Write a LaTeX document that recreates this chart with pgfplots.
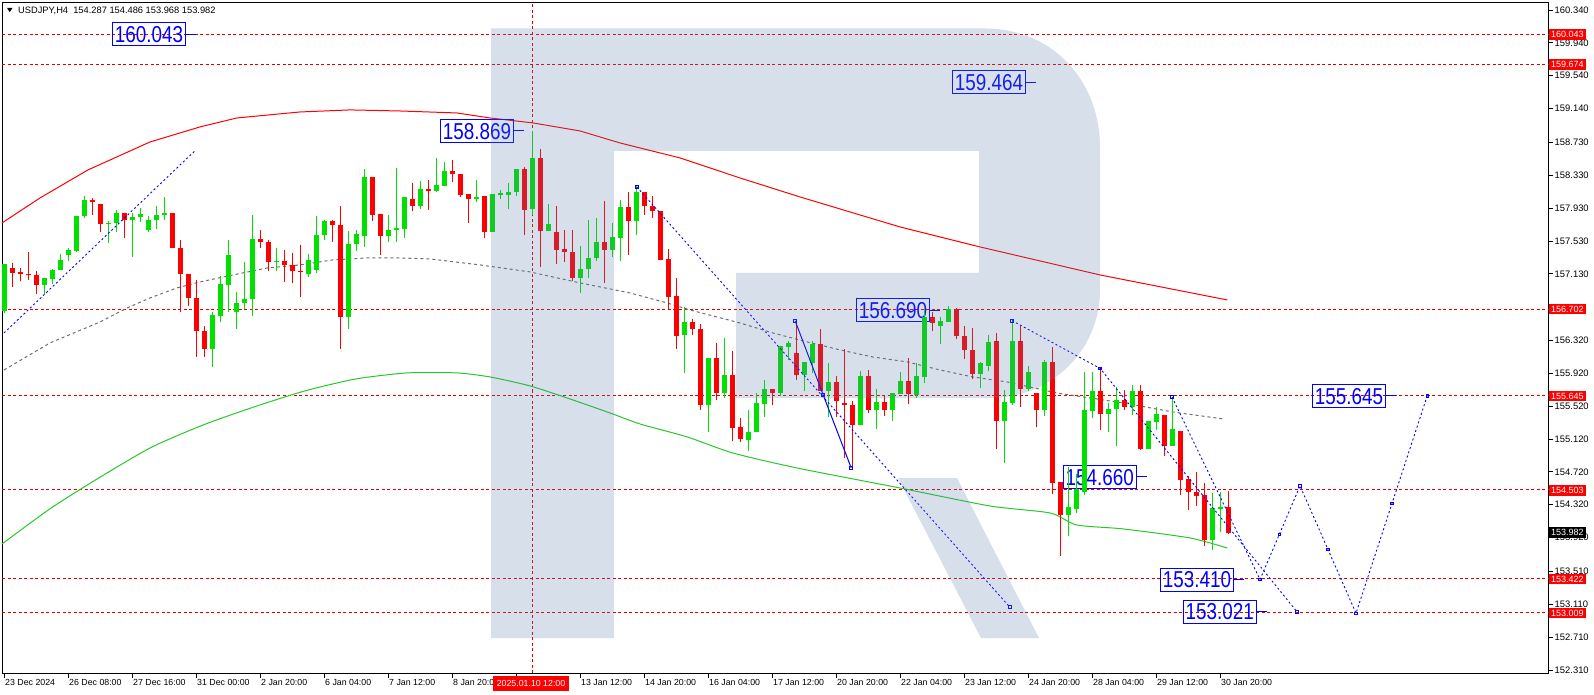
\documentclass[border=0pt]{standalone}
\usepackage{pgfplots}
\usepackage{pgfplotstable}
\pgfplotsset{compat=1.18}
\usepackage{fontspec}
\setmainfont{Liberation Sans}
\newfontfamily\labelfam{Liberation Sans}[FakeStretch=0.82]
\definecolor{cgreen}{RGB}{0,225,0}
\definecolor{cred}{RGB}{255,0,0}
\definecolor{magreen}{RGB}{40,200,40}
\definecolor{magray}{RGB}{110,110,110}
\definecolor{wm}{RGB}{86,123,173}
\definecolor{hlred}{RGB}{225,0,0}

\pgfplotstableread{
x o h l c
0 156.68 157.25 156.65 157.25
5 156.99 157.08 156.89 157.08
6 157.07 157.19 157.01 157.18
7 157.18 157.37 157.18 157.30
8 157.36 157.45 157.29 157.42
9 157.41 157.83 157.39 157.83
10 157.83 158.08 157.81 158.03
13 157.73 157.77 157.50 157.75
14 157.75 157.91 157.64 157.87
16 157.78 157.87 157.34 157.82
17 157.82 157.93 157.76 157.86
18 157.66 157.83 157.64 157.79
19 157.78 157.96 157.68 157.85
20 157.84 158.07 157.79 157.87
26 156.22 156.67 156.00 156.63
27 156.62 157.10 156.54 157.01
28 156.99 157.54 156.67 157.36
29 156.67 156.91 156.46 156.78
30 156.78 157.27 156.70 156.82
31 156.82 157.85 156.62 157.55
34 157.27 157.45 157.17 157.29
38 157.13 157.37 157.09 157.30
39 157.18 157.83 157.14 157.60
40 157.60 157.79 157.54 157.77
43 156.60 157.65 156.46 157.49
44 157.49 157.66 157.41 157.62
45 157.59 158.41 157.46 158.31
48 157.59 157.85 157.52 157.66
49 157.66 158.42 157.52 157.69
50 157.68 158.07 157.57 158.07
52 157.96 158.26 157.92 158.16
54 158.14 158.54 158.13 158.21
55 158.20 158.49 158.20 158.38
59 158.04 158.27 158.00 158.07
61 157.64 158.10 157.64 158.10
62 158.09 158.15 158.04 158.11
63 158.09 158.23 157.92 158.12
64 158.12 158.41 158.08 158.41
66 157.92 158.869 157.85 158.54
68 157.65 157.98 157.65 157.74
72 157.08 157.47 156.90 157.19
73 157.19 157.79 157.08 157.32
74 157.32 157.81 157.28 157.52
76 157.42 157.75 157.34 157.58
77 157.57 158.03 157.28 157.94
79 157.77 158.21 157.60 158.13
85 156.38 156.73 155.92 156.54
88 155.53 156.10 155.20 156.10
90 155.68 156.35 155.62 155.90
93 155.11 155.47 154.97 155.21
94 155.20 155.68 155.20 155.56
95 155.55 155.84 155.39 155.73
97 155.68 156.25 155.64 156.25
98 156.24 156.31 156.08 156.29
100 155.90 156.06 155.70 156.06
101 156.05 156.31 155.92 156.28
103 155.71 156.05 155.39 155.81
107 155.29 155.95 155.29 155.89
109 155.47 155.73 155.24 155.57
111 155.47 155.68 155.34 155.68
112 155.67 155.94 155.67 155.83
114 155.66 156.04 155.62 155.89
115 155.88 156.70 155.80 156.60
117 156.50 156.60 156.27 156.55
118 156.54 156.74 156.54 156.70
122 155.91 156.06 155.74 156.05
123 156.01 156.39 155.95 156.30
125 155.34 155.72 154.83 155.57
126 155.56 156.57 155.53 156.31
128 155.73 156.01 155.71 155.93
130 155.47 156.08 155.40 156.06
133 154.19 154.78 153.94 154.29
134 154.27 154.70 154.22 154.51
135 154.48 155.94 154.44 155.47
136 155.46 155.94 155.37 155.70
138 155.43 155.56 155.20 155.49
139 155.48 155.75 155.03 155.60
141 155.51 155.78 155.41 155.71
143 155.00 155.34 155.00 155.34
144 155.33 155.51 155.23 155.43
146 155.04 155.63 155.04 155.24
151 153.89 154.46 153.77 154.28
152 154.27 154.48 153.99 154.29
}\upbars

\pgfplotstableread{
x o h l c
1 157.20 157.26 156.97 157.14
2 157.15 157.20 157.04 157.13
3 157.13 157.39 157.05 157.11
4 157.12 157.17 156.88 156.99
11 158.03 158.05 157.85 158.00
12 157.98 157.98 157.64 157.73
15 157.87 157.87 157.57 157.78
21 157.87 157.87 157.44 157.44
22 157.44 157.54 156.66 157.13
23 157.13 157.13 156.74 156.84
24 156.84 157.06 156.12 156.43
25 156.43 156.50 156.12 156.22
32 157.55 157.66 157.45 157.52
33 157.52 157.54 157.16 157.27
35 157.29 157.42 157.03 157.24
36 157.24 157.38 157.02 157.17
37 157.17 157.48 156.85 157.16
41 157.77 157.79 157.52 157.72
42 157.72 157.96 156.22 156.60
46 158.31 158.31 157.77 157.85
47 157.86 157.86 157.36 157.59
51 158.04 158.24 157.89 157.96
53 158.16 158.27 157.91 158.14
56 158.38 158.52 158.25 158.35
57 158.35 158.35 158.06 158.09
58 158.10 158.10 157.75 158.04
60 158.08 158.08 157.56 157.64
65 158.40 158.43 157.60 157.91
67 158.54 158.65 157.21 157.65
69 157.64 157.96 157.25 157.42
70 157.43 157.66 157.27 157.39
71 157.39 157.66 157.04 157.08
75 157.52 158.02 157.02 157.42
78 157.94 158.13 157.36 157.77
80 158.13 158.13 157.85 157.95
81 157.95 158.08 157.81 157.90
82 157.90 157.90 157.30 157.30
83 157.31 157.43 156.70 156.85
84 156.86 157.08 156.22 156.37
86 156.54 156.58 156.39 156.46
87 156.46 156.52 155.47 155.53
89 156.10 156.29 155.60 155.68
91 155.90 156.19 155.09 155.25
92 155.26 155.37 155.08 155.12
96 155.73 155.73 155.53 155.68
99 156.17 156.56 155.84 155.90
102 156.28 156.46 155.71 155.71
104 155.81 155.89 155.39 155.58
105 155.56 156.21 154.89 155.53
106 155.53 155.58 154.78 155.29
108 155.89 155.96 155.44 155.47
110 155.57 155.64 155.40 155.47
113 155.83 156.10 155.54 155.67
116 156.61 156.67 156.43 156.53
119 156.70 156.72 156.34 156.37
120 156.37 156.49 156.09 156.20
121 156.20 156.47 155.85 155.91
124 156.31 156.41 155.00 155.34
127 156.31 156.49 155.51 155.73
129 155.68 155.68 155.27 155.47
131 156.06 156.24 154.45 154.59
132 154.60 154.60 153.70 154.19
137 155.70 155.98 155.23 155.43
140 155.60 155.72 155.47 155.51
142 155.71 155.78 154.99 155.00
145 155.41 155.41 154.91 155.04
147 155.22 155.22 154.44 154.62
148 154.63 154.67 154.26 154.47
149 154.47 154.72 154.31 154.43
150 154.44 154.59 153.82 153.89
153 154.287 154.486 153.968 153.982
}\downbars

\pgfplotstableread{
x y
-0.25 157.749
4.5 158.053
10.5 158.394
18.25 158.734
24.5 158.917
29.1 159.026
37 159.099
43.25 159.124
49.5 159.111
56.6 159.087
60.75 159.026
66.1 158.966
72 158.868
77 158.722
84.5 158.540
92 158.296
99.5 158.065
112 157.700
122 157.457
137 157.116
152.9 156.812
}\maslow

\pgfplotstableread{
x y
0 155.960
5.75 156.289
12 156.544
15.4 156.715
18.25 156.836
21.6 156.958
24.5 157.031
28.6 157.116
32.9 157.201
37 157.238
41.1 157.299
45.4 157.323
49.5 157.323
53.25 157.311
59.5 157.238
65.75 157.153
72 157.019
78.25 156.897
82.9 156.775
85.75 156.690
92 156.532
96.1 156.410
100.4 156.301
104.5 156.204
108.6 156.118
112.9 156.058
117 155.960
121.1 155.875
125.4 155.814
131.6 155.680
139.9 155.559
146.1 155.449
152.4 155.364
}\mamid

\pgfplotstableread{
x y
-0.25 153.843
5.9 154.281
12.25 154.670
18.5 155.023
24.9 155.291
31.25 155.510
37.6 155.705
44 155.851
50.4 155.924
56.6 155.924
60.75 155.875
65.75 155.766
70.75 155.607
75.75 155.437
79.5 155.303
85.4 155.145
91.1 154.950
99.1 154.768
112 154.524
123.25 154.305
130.75 154.220
134.1 154.074
139.9 154.026
148.25 153.916
152.9 153.794
}\mafast

\newcommand{\biglabel}[3]{%
  \draw[blue, line width=0.9pt] (axis cs:#1,#2) -- ++(10pt,0pt);
  \node[draw=blue, line width=0.9pt, text=blue, anchor=east, inner xsep=2.5pt,
        inner ysep=0pt, minimum height=23pt, text height=16.5pt, text depth=0pt,
        font=\labelfam\fontsize{23}{23}\selectfont] at (axis cs:#1,#2) {#3};%
}

\begin{document}
\begin{tikzpicture}
\useasboundingbox (0,0) rectangle (1594pt,694pt);
\begin{axis}[
  at={(2pt,21pt)}, anchor=south west,
  scale only axis, width=1546pt, height=671pt,
  xmin=-0.25, xmax=193, ymin=152.273, ymax=160.437,
  clip=false,
  axis line style={line width=0.8pt, black},
  tick align=outside,
  major tick length=4.5pt,
  tick style={line width=0.8pt, black},
  ytick pos=right, yticklabel pos=right,
  xtick pos=left,
  ytick={152.31,152.71,153.11,153.51,153.92,154.32,154.72,155.12,155.52,155.92,156.32,157.13,157.53,157.93,158.33,158.73,159.14,159.54,159.94,160.34},
  scaled y ticks=false,
  yticklabel style={font=\fontsize{9.4}{10}\selectfont, anchor=west, inner xsep=2pt,
    /pgf/number format/.cd, fixed, fixed zerofill, precision=3, assume math mode=true},
  xtick={0,8,...,152},
  xticklabels={23 Dec 2024, 26 Dec 08:00, 27 Dec 16:00, 31 Dec 00:00, 2 Jan 20:00, 6 Jan 04:00, 7 Jan 12:00, 8 Jan 20:00, {}, 13 Jan 12:00, 14 Jan 20:00, 16 Jan 04:00, 17 Jan 12:00, 20 Jan 20:00, 22 Jan 04:00, 23 Jan 12:00, 24 Jan 20:00, 28 Jan 04:00, 29 Jan 12:00, 30 Jan 20:00},
  xticklabel style={font=\fontsize{8.8}{10}\selectfont, anchor=north west, inner xsep=1pt, inner ysep=2pt},
  hl/.style={hlred, line width=0.9pt, dash pattern=on 3pt off 2.5pt},
  bd/.style={blue, line width=0.9pt, dash pattern=on 2pt off 2.5pt},
]
% horizontal and vertical levels
\addplot[hl] coordinates {(-0.25,160.043) (193,160.043)};
\addplot[hl] coordinates {(-0.25,159.674) (193,159.674)};
\addplot[hl] coordinates {(-0.25,156.702) (193,156.702)};
\addplot[hl] coordinates {(-0.25,155.645) (193,155.645)};
\addplot[hl] coordinates {(-0.25,154.503) (193,154.503)};
\addplot[hl] coordinates {(-0.25,153.422) (193,153.422)};
\addplot[hl] coordinates {(-0.25,153.009) (193,153.009)};
\addplot[hl] coordinates {(66,152.273) (66,160.437)};

% moving averages
\addplot[red, line width=1pt] table[x=x,y=y] {\maslow};
\addplot[magray, line width=1pt, dash pattern=on 3pt off 3pt] table[x=x,y=y] {\mamid};
\addplot[magreen, line width=1pt, smooth, tension=0.4] table[x=x,y=y] {\mafast};

% big labels
\biglabel{22.75}{160.043}{160.043}
\biglabel{127.75}{159.464}{159.464}
\biglabel{63.75}{158.869}{158.869}
\biglabel{115.75}{156.690}{156.690}
\biglabel{141.6}{154.660}{154.660}
\biglabel{153.75}{153.410}{153.410}
\biglabel{156.6}{153.021}{153.021}
\biglabel{172.75}{155.645}{155.645}

% candles: wicks
\addplot[draw=none, mark=none, error bars/.cd, y dir=plus, y explicit,
  error mark=none, error bar style={line width=1pt, draw=cgreen, solid}]
  table[x=x, y=l, y error expr=\thisrow{h}-\thisrow{l}] {\upbars};
\addplot[draw=none, mark=none, error bars/.cd, y dir=plus, y explicit,
  error mark=none, error bar style={line width=1pt, draw=cred, solid}]
  table[x=x, y=l, y error expr=\thisrow{h}-\thisrow{l}] {\downbars};
% candles: bodies
\addplot[draw=none, mark=none, error bars/.cd, y dir=plus, y explicit,
  error mark=none, error bar style={line width=5pt, draw=cgreen, solid}]
  table[x=x, y=o, y error expr=\thisrow{c}-\thisrow{o}] {\upbars};
\addplot[draw=none, mark=none, error bars/.cd, y dir=plus, y explicit,
  error mark=none, error bar style={line width=5pt, draw=cred, solid}]
  table[x=x, y=c, y error expr=\thisrow{o}-\thisrow{c}] {\downbars};

% trend / forecast lines
\addplot[bd] coordinates {(0,156.410) (23.9,158.63)};
\addplot[bd, mark=square, mark size=1.5pt, mark options={solid, line width=0.8pt}] coordinates {(79.1,158.187) (125.7,153.077)};
\addplot[blue, line width=1pt, mark=square, mark size=1.5pt, mark options={solid, line width=0.8pt}] coordinates {(98.9,156.556) (102.4,155.656) (105.9,154.768)};
\addplot[bd, mark=square, mark size=1.3pt, mark options={solid, line width=0.8pt}] coordinates {(126,156.56) (137,155.98) (161.6,153.02)};
\addplot[bd, mark=square, mark size=1.3pt, mark options={solid, line width=0.8pt}] coordinates {(146,155.63) (157,153.41) (159.4,153.957) (162,154.55) (165.5,153.775) (169,153.00) (173.5,154.337) (177.9,155.645)};
\end{axis}

\begin{scope}[x=1pt,y=-1pt,shift={(0pt,694pt)}]
% watermark
\fill[wm, fill opacity=0.24, even odd rule]
  (491,28.5) -- (985,28.5) .. controls (1052,28.5) and (1100,80) .. (1100,148)
  -- (1100,290) .. controls (1100,350) and (1052,398) .. (990,398)
  -- (736,398) -- (736,273) -- (979,273) -- (979,151) -- (614,151)
  -- (614,638) -- (491,638) -- cycle;
\fill[wm, fill opacity=0.24] (898,478) -- (957,478) -- (1039,638) -- (981,638) -- cycle;
% title
\fill[black] (7,8) -- (12.5,8) -- (9.75,12) -- cycle;
\node[anchor=west, inner sep=0pt, font=\fontsize{9.3}{10}\selectfont] at (18,10.5) {USDJPY,H4\ \ 154.287 154.486 153.968 153.982};
% price tags
\tikzset{tag/.style={fill=red, text=white, anchor=west, inner xsep=2pt, inner ysep=0pt, minimum height=10.5pt, font=\fontsize{9}{9}\selectfont}}
\node[tag] at (1549,34.4) {160.043};
\node[tag] at (1549,64.7) {159.674};
\node[tag] at (1549,309) {156.702};
\node[tag] at (1549,396) {155.645};
\node[tag] at (1549,490.3) {154.503};
\node[tag] at (1549,579) {153.422};
\node[tag] at (1549,613) {153.009};
\node[tag, fill=black] at (1549,532.6) {153.982};
% crosshair time tag
\node[fill=red, text=white, inner xsep=4pt, inner ysep=0pt, minimum height=15pt, font=\fontsize{8.8}{9}\selectfont] at (531,683) {2025.01.10 12:00};
\end{scope}
\end{tikzpicture}
\end{document}
